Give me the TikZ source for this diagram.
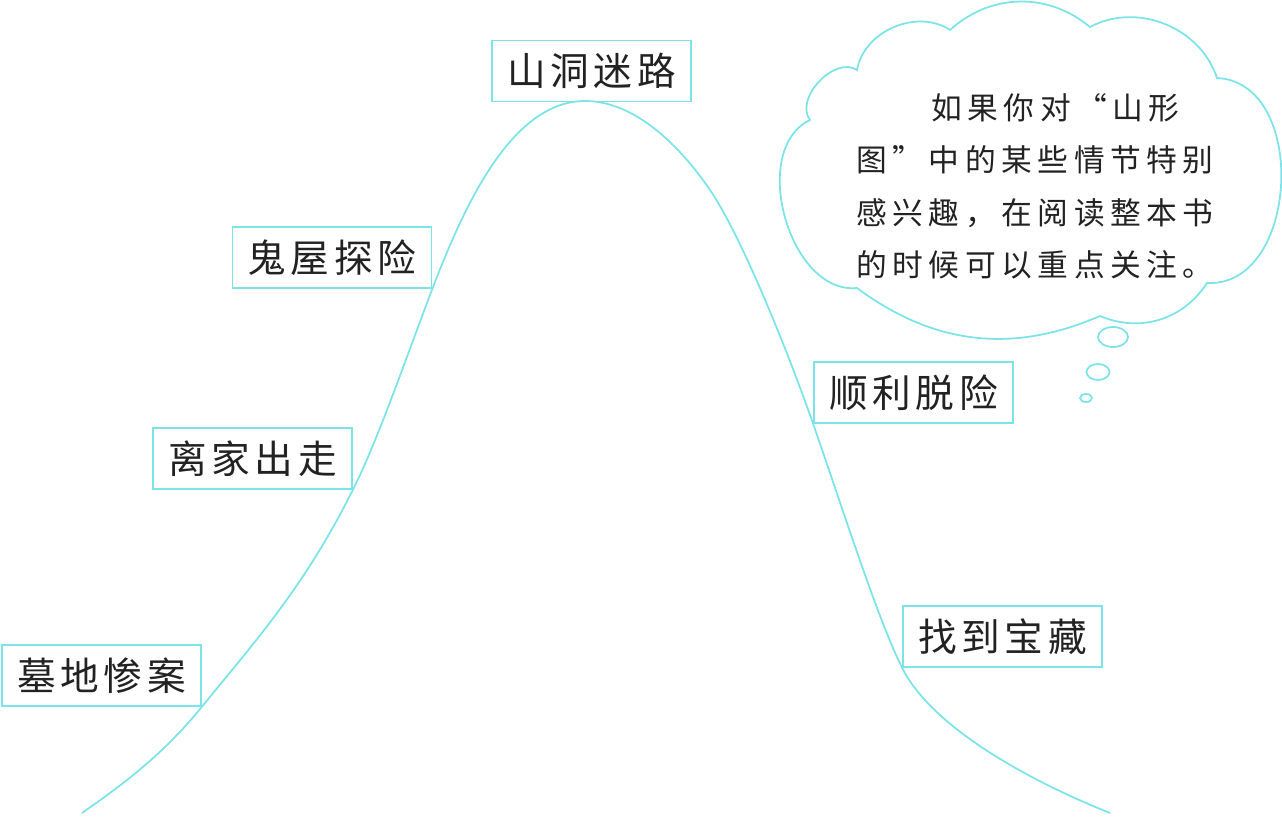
\documentclass[tikz,border=0pt]{standalone}
\usepackage{fontspec}
\usepackage{tikz}
\newfontfamily\labelfont[LetterSpace=12]{Noto Sans CJK SC}
\newfontfamily\notefont[LetterSpace=18]{Noto Sans CJK SC}
\definecolor{hillcyan}{RGB}{124,228,232}
\definecolor{inkgray}{RGB}{34,34,34}

\begin{document}
\begin{tikzpicture}[x=0.02cm,y=-0.02cm,
  event/.style={draw=hillcyan,rectangle,line width=1pt,minimum width=3.98cm,minimum height=1.22cm,inner sep=0pt,text=inkgray,font=\labelfont\fontsize{22}{22}\selectfont},
  hill/.style={draw=hillcyan,line width=1pt},
  note/.style={align=left,inner sep=0pt,text=inkgray,font=\notefont\fontsize{17.5}{29.8}\selectfont}]
  \useasboundingbox (0,0) rectangle (1282,817);
  \node[event] (mudi) at (101.5,675.5) {墓地惨案};
  \node[event] (lijia) at (252.5,458.5) {离家出走};
  \node[event] (guiwu) at (332,257.5) {鬼屋探险};
  \node[event] (shandong) at (591.5,71) {山洞迷路};
  \node[event] (shunli) at (913.5,392.5) {顺利脱险};
  \node[event] (zhaodao) at (1002.5,636.5) {找到宝藏};
  \coordinate (start) at (82,813);
  \coordinate (peak) at (585,101);
  \coordinate (slope) at (710,190);
  \coordinate (finish) at (1110,813);
  \draw[hill] (start) .. controls +(40,-28) and +(-40,49) .. (mudi.south east)
    .. controls +(50,-62) and +(-50,100) .. (lijia.south east)
    .. controls +(26,-52) and +(-26,68) .. (guiwu.south east)
    .. controls +(30,-78) and +(-75,0) .. (peak)
    .. controls +(50,0) and +(-30,-44) .. (slope)
    .. controls +(30,44) and +(-28,-80) .. (shunli.south west)
    .. controls +(28,80) and +(-25,-50) .. (zhaodao.south west)
    .. controls +(30,60) and +(-80,-32) .. (finish);
  \draw[hill] (950,30) to[bend left=41] (1090,27) to[bend left=50] (1217,78)
    to[bend left=90,looseness=1.15] (1207,283) to[bend left=40] (1100,316)
    to[bend left=30] (857,288) to[bend left=80] (810,120) to[bend left=80] (857,70)
    to[bend left=57] cycle;
  \node[note,anchor=north west] (tip) at (856,93) {\hspace*{1.5cm}如果你对“山形\\图”中的某些情节特别\\感兴趣，在阅读整本书\\的时候可以重点关注。};
  \draw[hill] (1113,337) ellipse [x radius=0.3cm,y radius=0.2cm];
  \draw[hill] (1098,372) ellipse [x radius=0.23cm,y radius=0.16cm];
  \draw[hill] (1086,398) ellipse [x radius=0.12cm,y radius=0.08cm];
\end{tikzpicture}
\end{document}
